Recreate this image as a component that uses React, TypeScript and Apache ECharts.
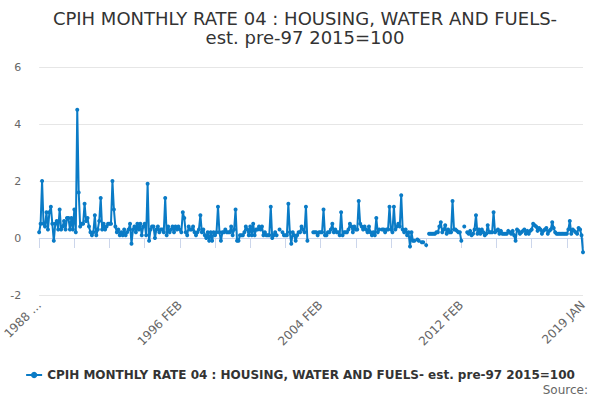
import React, { useEffect, useRef } from "react";
import * as echarts from "echarts";

const MONTHS = ["JAN", "FEB", "MAR", "APR", "MAY", "JUN", "JUL", "AUG", "SEP", "OCT", "NOV", "DEC"];
const START_YEAR = 1988;
const START_MONTH = 1; // FEB

const N = null;

// Monthly rates, Feb 1988 - Jan 1996 (each row Feb..Jan)
const rates1988to1995 = [
  0.2, 0.5, 2.0, 0.5, 0.4, 0.9, 0.3, 0.9, 1.1, 0.5, -0.1, 0.5,
  0.6, 0.3, 1.0, 0.3, 0.4, 0.6, 0.3, 0.7, 0.7, 0.3, 0.7, 0.3,
  1.0, 0.2, 4.5, 1.6, 0.4, 0.5, 0.5, 1.2, 0.6, 0.7, 0.4, 0.2,
  0.1, 0.2, 0.8, 0.1, 0.3, 0.6, 1.4, 0.3, 0.5, 0.3, 0.4, 0.5,
  0.5, 0.5, 2.0, 1.0, 0.4, 0.2, 0.3, 0.1, 0.2, 0.1, 0.3, 0.1,
  0.2, 0.3, 0.5, -0.2, 0.3, 0.4, 0.2, 0.5, 0.3, 0.5, 0.1, 0.4,
  0.5, 0.1, 1.9, -0.1, 0.3, 0.4, 0.4, 0.0, 0.3, 0.4, 0.2, 0.3,
  0.3, 0.2, 1.4, 0.1, 0.4, 0.2, 0.3, 0.4, 0.2, 0.4, 0.3, 0.4,
];

// Feb 1996 - Jan 2004
const rates1996to2003 = [
  0.3, 0.2, 0.9, 0.7, 0.2, 0.1, 0.4, 0.3, 0.3, 0.4, 0.2, 0.1,
  0.2, 0.3, 0.8, 0.2, 0.3, 0.1, 0.0, 0.2, -0.1, 0.2, -0.1, 0.2,
  0.1, 0.2, 1.1, 0.2, -0.1, 0.2, 0.2, 0.3, 0.2, 0.2, 0.2, 0.4,
  0.1, 0.3, 1.0, -0.1, -0.1, 0.1, 0.1, 0.1, 0.2, 0.4, 0.3, 0.1,
  0.4, 0.1, 0.5, 0.1, 0.3, 0.3, 0.4, 0.3, 0.4, 0.1, 0.2, 0.1,
  0.1, 0.1, 1.1, 0.0, 0.1, 0.2, 0.1, N, 0.3, N, 0.2, 0.1,
  0.1, 0.1, 1.2, 0.2, -0.2, 0.2, 0.1, -0.1, 0.1, 0.2, 0.2, 0.4,
  0.3, 0.2, 1.1, -0.1, N, N, N, 0.2, 0.2, 0.2, 0.1, 0.2,
];

// Feb 2004 - Jan 2012
const rates2004to2011 = [
  0.2, 0.2, 1.0, 0.1, 0.1, 0.2, 0.2, 0.3, 0.5, 0.2, 0.3, 0.2,
  0.2, 0.1, 0.9, 0.1, 0.2, 0.2, 0.2, 0.3, 0.5, 0.4, 0.2, 0.4,
  0.3, 0.3, 1.3, 0.5, 0.4, 0.3, 0.4, 0.3, 0.2, 0.4, 0.2, 0.1,
  0.2, 0.1, 0.7, 0.2, 0.3, N, 0.3, 0.3, 0.2, 0.3, 0.3, 1.1,
  0.3, 0.2, 1.1, 0.3, 0.4, 0.5, 0.4, 1.5, 0.3, 0.2, 0.3, 0.1,
  0.2, -0.3, 0.2, -0.1, -0.1, N, -0.05, -0.1, N, -0.15, -0.15, N,
  -0.25, N, 0.15, 0.15, 0.15, 0.15, 0.15, 0.2, 0.2, 0.4, 0.55, 0.2,
  0.3, 0.45, 0.15, 0.3, 0.2, 0.2, 1.3, 0.3, 0.3, 0.25, 0.2, 0.2,
];

// Feb 2012 - Jan 2019
const rates2012to2019 = [
  -0.1, N, 0.4, N, 0.2, 0.15, 0.25, 0.1, 0.15, 0.3, 0.8, 0.15,
  0.3, 0.15, 0.3, 0.2, 0.1, 0.15, 0.45, 0.2, 0.2, 0.2, 0.9, 0.2,
  0.25, 0.3, 0.15, 0.25, 0.15, 0.15, 0.15, 0.15, 0.25, 0.2, 0.15, 0.25,
  0.1, -0.1, 0.3, 0.25, 0.15, 0.2, 0.25, 0.3, 0.15, 0.25, 0.15, 0.25,
  0.3, 0.5, 0.45, 0.4, 0.25, 0.35, 0.3, 0.15, 0.25, 0.3, 0.35, 0.15,
  0.25, 0.3, 0.55, 0.35, 0.2, 0.15, 0.15, 0.15, 0.15, 0.15, 0.15, 0.15,
  0.15, 0.3, 0.6, 0.15, 0.3, 0.25, 0.2, 0.15, 0.35, 0.3, 0.1, -0.5,
];

const values = [...rates1988to1995, ...rates1996to2003, ...rates2004to2011, ...rates2012to2019];

const categories: string[] = values.map((_, i) => {
  const m = START_MONTH + i;
  return `${START_YEAR + Math.floor(m / 12)} ${MONTHS[m % 12]}`;
});

const TITLE = "CPIH MONTHLY RATE 04 : HOUSING, WATER AND FUELS-\nest. pre-97 2015=100";
const SERIES_NAME = "CPIH MONTHLY RATE 04 : HOUSING, WATER AND FUELS- est. pre-97 2015=100";
const Y_MIN = -2;
const Y_MAX = 6;
const Y_STEP = 2;
const TICK_EVERY = 24;
const LABEL_EVERY = 96;

const FONT = "DejaVu Sans";
const BLUE = "#0a7bc6";

export default function App() {
  const ref = useRef<HTMLDivElement>(null);

  useEffect(() => {
    document.body.style.margin = "0";
    if (!ref.current) return;
    const chart = echarts.init(ref.current, undefined, { renderer: "svg" });
    const last = categories.length - 1;
    chart.setOption({
      animation: false,
      textStyle: { fontFamily: FONT },
      title: {
        text: TITLE,
        left: 300,
        top: 4,
        textAlign: "center",
        textStyle: {
          fontFamily: FONT,
          fontSize: 18,
          fontWeight: "normal",
          color: "#333333",
          lineHeight: 19,
        },
      },
      legend: {
        bottom: 14,
        left: "center",
        itemWidth: 16,
        itemHeight: 8,
        itemGap: 10,
        textStyle: { fontFamily: FONT, fontSize: 12, fontWeight: "bold", color: "#333333" },
        data: [SERIES_NAME],
      },
      grid: { left: 36.5, right: 17, top: 67, bottom: 105, containLabel: false },
      xAxis: {
        type: "category",
        data: categories,
        boundaryGap: false,
        axisLine: { lineStyle: { color: "#ccd6eb", width: 1 } },
        axisTick: {
          length: 10,
          interval: (i: number) => i % TICK_EVERY === 0 || i === last,
          lineStyle: { color: "#ccd6eb" },
        },
        axisLabel: {
          rotate: 45,
          margin: 8,
          fontSize: 12,
          color: "#666666",
          fontFamily: FONT,
          interval: (i: number) => i % LABEL_EVERY === 0 || i === last,
          formatter: (v: string) => (v === categories[0] ? `${v.slice(0, 4)} …` : v),
        },
        splitLine: { show: false },
      },
      yAxis: {
        type: "value",
        min: Y_MIN,
        max: Y_MAX,
        interval: Y_STEP,
        axisLine: { show: false },
        axisTick: { show: false },
        axisLabel: { color: "#666666", fontSize: 11, margin: 18, fontFamily: FONT },
        splitLine: { lineStyle: { color: "#e6e6e6", width: 1 } },
      },
      series: [
        {
          name: SERIES_NAME,
          type: "line",
          data: values,
          connectNulls: false,
          showAllSymbol: true,
          symbol: "circle",
          symbolSize: 4,
          itemStyle: { color: BLUE },
          lineStyle: { color: BLUE, width: 2 },
        },
      ],
      graphic: [
        {
          type: "text",
          right: 12,
          top: 384,
          style: { text: "Source:", fill: "#666666", fontSize: 12, fontFamily: FONT },
        },
      ],
    });
    return () => chart.dispose();
  }, []);

  return <div ref={ref} style={{ width: 600, height: 400 }} />;
}
